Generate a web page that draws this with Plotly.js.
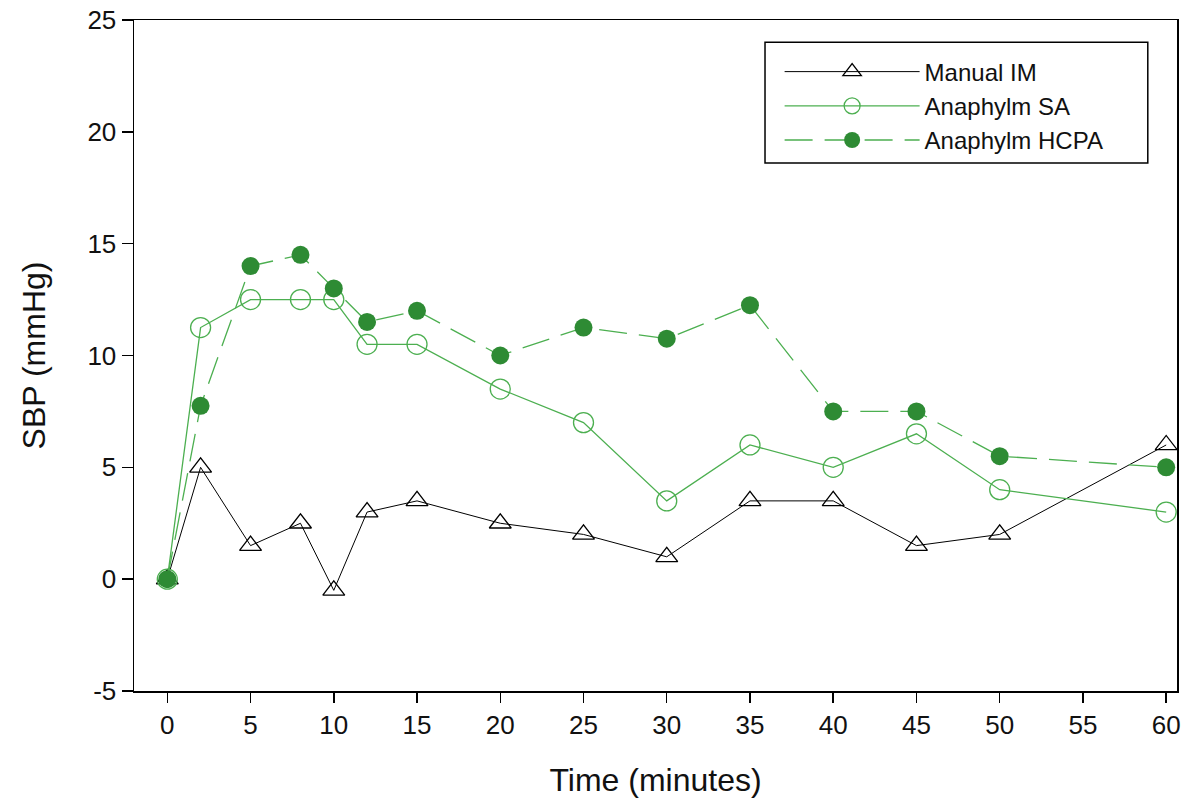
<!DOCTYPE html>
<html>
<head>
<meta charset="utf-8">
<script src="https://cdn.plot.ly/plotly-3.0.1.min.js"></script>
<style>html,body{margin:0;padding:0;background:#fff;}#chart{width:1187px;height:803px;}</style>
</head>
<body>
<div id="chart"></div>
<script>
const timeMin = [0, 2, 5, 8, 10, 12, 15, 20, 25, 30, 35, 40, 45, 50, 60];
const manualIM = [0, 5, 1.5, 2.5, -0.5, 3, 3.5, 2.5, 2, 1, 3.5, 3.5, 1.5, 2, 6];
const anaphylmSA = [0, 11.25, 12.5, 12.5, 12.5, 10.5, 10.5, 8.5, 7, 3.5, 6, 5, 6.5, 4, 3];
const anaphylmHCPA = [0, 7.75, 14, 14.5, 13, 11.5, 12, 10, 11.25, 10.75, 12.25, 7.5, 7.5, 5.5, 5];
const seriesNames = ["Manual IM", "Anaphylm SA", "Anaphylm HCPA"];
const xTicks = [0, 5, 10, 15, 20, 25, 30, 35, 40, 45, 50, 55, 60];
const yTicks = [-5, 0, 5, 10, 15, 20, 25];

const traces = [
  {
    x: timeMin, y: manualIM, name: seriesNames[0], type: "scatter", mode: "lines+markers",
    line: {color: "#000000", width: 1},
    marker: {symbol: "triangle-up-open", size: 19, color: "#000000", line: {width: 1.3, color: "#000000"}}
  },
  {
    x: timeMin, y: anaphylmSA, name: seriesNames[1], type: "scatter", mode: "lines+markers",
    line: {color: "#4caf50", width: 1.3},
    marker: {symbol: "circle-open", size: 20, color: "#4caf50", line: {width: 1.3, color: "#4caf50"}}
  },
  {
    x: timeMin, y: anaphylmHCPA, name: seriesNames[2], type: "scatter", mode: "lines+markers",
    line: {color: "#4caf50", width: 1.3, dash: "28px,12px"},
    marker: {symbol: "circle", size: 18, color: "#2e8b34", line: {width: 0}}
  }
];

const fontFam = "Liberation Sans, Arial, sans-serif";
const txt = "#111111";
const layout = {
  width: 1187, height: 803,
  margin: {l: 134, r: 10, t: 20, b: 112},
  paper_bgcolor: "#ffffff", plot_bgcolor: "#ffffff",
  showlegend: true,
  font: {family: fontFam, color: txt},
  xaxis: {
    range: [-2, 60.65], tickvals: xTicks, ticktext: xTicks.map(String),
    showgrid: false, zeroline: false, showline: true, mirror: true,
    linecolor: "#000000", linewidth: 1.5,
    ticks: "outside", ticklen: 10, tickwidth: 1.5, tickcolor: "#000000",
    tickfont: {size: 26, family: fontFam, color: txt},
    title: {text: "Time (minutes)", font: {size: 32, family: fontFam, color: txt}, standoff: 30}
  },
  yaxis: {
    range: [-5, 25], tickvals: yTicks, ticktext: yTicks.map(String),
    showgrid: false, zeroline: false, showline: true, mirror: true,
    linecolor: "#000000", linewidth: 1.5,
    ticks: "outside", ticklen: 11, tickwidth: 1.5, tickcolor: "#000000",
    tickfont: {size: 26, family: fontFam, color: txt},
    title: {text: "SBP (mmHg)", font: {size: 32, family: fontFam, color: txt}, standoff: 32}
  },
  legend: {
    x: 0.619, y: 0.956, xanchor: "left", yanchor: "top",
    bgcolor: "rgba(0,0,0,0)", borderwidth: 0,
    font: {size: 24, family: fontFam, color: txt},
    itemwidth: 135, tracegroupgap: 0
  },
  shapes: [
    {type: "rect", xref: "paper", yref: "paper", x0: 0.605, x1: 0.972, y0: 0.787, y1: 0.967,
     line: {color: "#000000", width: 1.5}, fillcolor: "rgba(0,0,0,0)", layer: "below"}
  ]
};

Plotly.newPlot("chart", traces, layout, {displayModeBar: false, staticPlot: true});
</script>
</body>
</html>
